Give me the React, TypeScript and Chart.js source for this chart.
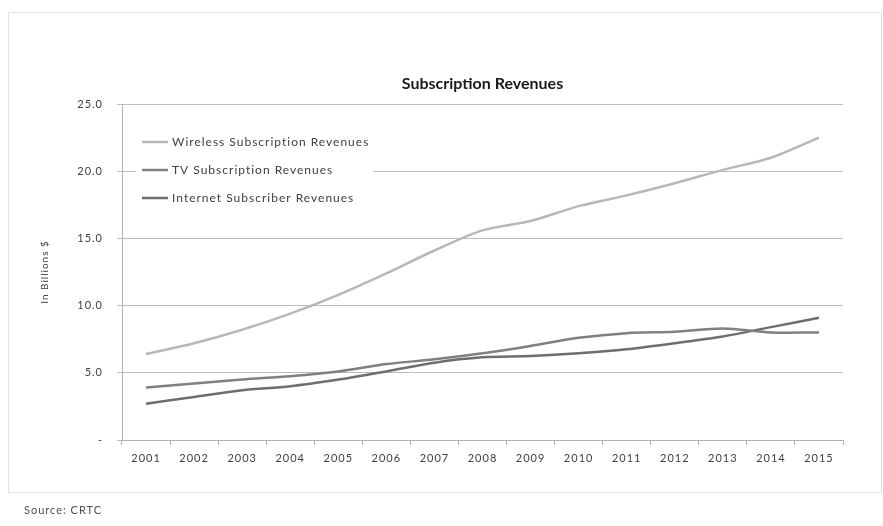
import React, { useEffect, useRef } from "react";
import { Chart, registerables } from "chart.js";

Chart.register(...registerables);

const years = ["2001","2002","2003","2004","2005","2006","2007","2008","2009","2010","2011","2012","2013","2014","2015"];
const wireless = [6.4, 7.2, 8.2, 9.4, 10.8, 12.4, 14.1, 15.6, 16.3, 17.4, 18.2, 19.1, 20.1, 21.0, 22.5];
const tv = [3.9, 4.2, 4.5, 4.75, 5.1, 5.65, 6.0, 6.45, 7.0, 7.6, 7.95, 8.05, 8.3, 8.0, 8.0];
const internet = [2.7, 3.2, 3.7, 4.0, 4.5, 5.1, 5.75, 6.15, 6.25, 6.45, 6.75, 7.2, 7.7, 8.4, 9.1];
const seriesLabels = ["Wireless Subscription Revenues", "TV Subscription Revenues", "Internet Subscriber Revenues"];
const seriesColors = ["#b8b8b8", "#808080", "#6e6e6e"];
const titleText = "Subscription Revenues";
const yTitle = "In Billions $";
const sourceText = "Source: CRTC";

const FONT = "Lato, 'Open Sans', sans-serif";

const decor = {
  id: "decor",
  beforeDraw(chart: any) {
    const ctx = chart.ctx;
    ctx.save();
    ctx.fillStyle = "#ffffff";
    ctx.fillRect(0, 0, chart.width, chart.height);
    ctx.strokeStyle = "#c4c4c4";
    ctx.lineWidth = 1;
    ctx.setLineDash([1, 1]);
    ctx.strokeRect(8.5, 12.5, 873, 480);
    ctx.restore();
    ctx.letterSpacing = "1px";
  },
  afterDatasetsDraw(chart: any) {
    const ctx = chart.ctx;
    const area = chart.chartArea;
    ctx.save();
    ctx.fillStyle = "#ffffff";
    ctx.fillRect(area.left + 14, 124, 238, 90);
    const rows = [142, 170, 198];
    ctx.letterSpacing = "1px";
    ctx.font = `12px ${FONT}`;
    ctx.textBaseline = "middle";
    ctx.textAlign = "left";
    chart.data.datasets.forEach((ds: any, i: number) => {
      ctx.strokeStyle = ds.borderColor;
      ctx.lineWidth = 2.5;
      ctx.beginPath();
      ctx.moveTo(area.left + 20, rows[i]);
      ctx.lineTo(area.left + 46, rows[i]);
      ctx.stroke();
      ctx.fillStyle = "#404040";
      ctx.fillText(ds.label, area.left + 50, rows[i]);
    });
    ctx.restore();
  },
  afterDraw(chart: any) {
    const ctx = chart.ctx;
    const area = chart.chartArea;
    ctx.save();
    ctx.letterSpacing = "0px";
    ctx.fillStyle = "#1a1a1a";
    ctx.font = `bold 16px ${FONT}`;
    ctx.textAlign = "center";
    ctx.textBaseline = "middle";
    ctx.fillText(titleText, (area.left + area.right) / 2, 84);
    ctx.letterSpacing = "1px";
    ctx.font = `11px ${FONT}`;
    ctx.fillStyle = "#505050";
    ctx.textAlign = "left";
    ctx.fillText(sourceText, 24, 510);
    ctx.restore();
  },
};

export default function App() {
  const ref = useRef<HTMLCanvasElement | null>(null);
  useEffect(() => {
    if (!ref.current) return;
    const datasets = [wireless, tv, internet].map((d, i) => ({
      label: seriesLabels[i],
      data: d,
      borderColor: seriesColors[i],
      backgroundColor: seriesColors[i],
      borderWidth: 2.5,
      pointRadius: 0,
      tension: 0.3,
      fill: false,
    }));
    const chart = new Chart(ref.current, {
      type: "line",
      data: { labels: years, datasets },
      options: {
        animation: false,
        responsive: false,
        maintainAspectRatio: false,
        layout: { padding: { top: 104, left: 34, right: 40, bottom: 50 } },
        plugins: {
          legend: { display: false },
          title: { display: false },
          tooltip: { enabled: false },
        },
        scales: {
          x: {
            offset: true,
            grid: {
              offset: true,
              drawOnChartArea: false,
              drawTicks: true,
              tickLength: 5,
              color: "#b0b0b0",
            },
            border: { color: "#b0b0b0" },
            ticks: {
              color: "#404040",
              font: { family: FONT, size: 11 },
              padding: 7,
              maxRotation: 0,
              autoSkip: false,
            },
            afterFit(scale: any) {
              scale.height = 36;
            },
          },
          y: {
            min: 0,
            max: 25,
            grid: {
              color: "#bcbcbc",
              tickLength: 5,
            },
            border: { color: "#b0b0b0" },
            ticks: {
              stepSize: 5,
              color: "#404040",
              font: { family: FONT, size: 11 },
              padding: 14,
              callback: (v: any) => (Number(v) === 0 ? "-" : Number(v).toFixed(1)),
            },
            title: {
              display: true,
              text: yTitle,
              color: "#404040",
              font: { family: FONT, size: 10 },
              padding: { top: 5, bottom: 22 },
            },
            afterFit(scale: any) {
              scale.width = 88;
            },
          },
        },
      },
      plugins: [decor],
    });
    return () => chart.destroy();
  }, []);
  return (
    <div style={{ position: "fixed", left: 0, top: 0, width: 883, height: 526, background: "#fff" }}>
      <canvas ref={ref} width={883} height={526} style={{ width: 883, height: 526, display: "block" }} />
    </div>
  );
}
